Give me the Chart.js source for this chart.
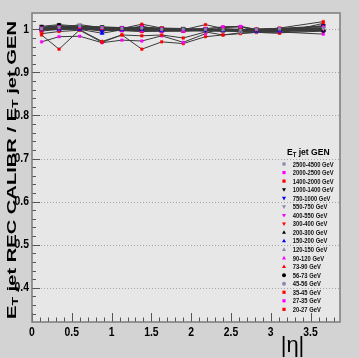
<!DOCTYPE html>
<html>
<head>
<meta charset="utf-8">
<script src="https://cdn.jsdelivr.net/npm/chart.js@4/dist/chart.umd.min.js"></script>
<style>
html,body{margin:0;padding:0;background:#d3d3d3;overflow:hidden;}
canvas{display:block;}
</style>
</head>
<body>
<canvas id="c" width="359" height="358" style="width:359px;height:358px"></canvas>
<script>
// ---- data ----
const eta = [0.12, 0.34, 0.60, 0.88, 1.13, 1.38, 1.63, 1.90, 2.18, 2.40, 2.62, 2.82, 3.11, 3.66];
const seriesLabels = ["2500-4500 GeV","2000-2500 GeV","1400-2000 GeV","1000-1400 GeV","750-1000 GeV","550-750 GeV","400-550 GeV","300-400 GeV","200-300 GeV","150-200 GeV","120-150 GeV","90-120 GeV","73-90 GeV","56-73 GeV","45-56 GeV","35-45 GeV","27-35 GeV","20-27 GeV"];
const pt2500_4500 = [1.002,1.005,1.008,1.004,1.002,1.003,1.000,1.001,1.000,0.999,0.998,1.000,1.001,1.003];
const pt2000_2500 = [1.003,1.006,1.006,1.004,1.004,1.005,1.001,0.998,1.001,1.006,1.007,1.000,1.002,1.006];
const pt1400_2000 = [1.000,1.004,1.004,1.002,1.002,1.012,1.003,0.999,1.011,1.002,1.000,0.999,1.003,1.018];
const pt1000_1400 = [1.007,1.011,1.007,1.006,1.004,1.005,1.003,1.002,1.001,1.000,0.999,1.000,1.002,1.008];
const pt750_1000  = [1.000,1.003,1.002,0.996,1.001,1.002,1.000,1.000,0.998,0.999,0.999,0.998,1.000,1.008];
const pt550_750   = [1.002,1.003,1.011,1.004,1.003,1.002,1.001,1.000,0.999,0.998,0.994,0.998,1.000,1.002];
const pt400_550   = [0.999,1.002,1.003,1.001,1.000,1.007,0.999,0.998,1.002,1.004,1.006,0.999,1.000,1.004];
const pt300_400   = [0.998,1.004,1.002,1.000,1.002,1.003,1.002,0.999,0.999,1.000,0.999,1.001,0.999,1.002];
const pt200_300   = [1.005,1.009,1.005,1.003,1.002,1.001,1.000,1.000,0.999,0.999,0.998,0.999,1.000,0.998];
const pt150_200   = [0.999,1.000,1.000,0.991,0.999,1.000,0.997,1.000,0.999,0.998,0.998,0.996,0.997,0.999];
const pt120_150   = [1.001,1.002,1.003,1.002,1.001,1.000,0.999,0.998,0.997,0.996,0.996,0.997,0.998,0.999];
const pt90_120    = [0.999,1.001,1.002,0.999,0.998,0.997,0.996,0.996,0.998,0.997,0.998,0.998,0.996,0.997];
const pt73_90     = [0.996,1.000,1.001,0.998,0.997,0.995,0.996,0.996,0.997,0.996,0.997,0.998,0.997,1.000];
const pt56_73     = [1.004,1.008,1.003,0.998,0.999,0.998,0.998,0.997,0.998,0.997,0.998,0.997,0.996,0.997];
const pt45_56     = [1.000,1.004,1.004,1.001,0.998,0.996,0.997,0.998,0.996,0.997,0.996,0.995,0.996,0.998];
const pt35_45     = [0.990,0.995,0.998,0.970,0.987,0.985,0.987,0.980,0.994,0.987,0.992,0.993,0.992,0.996];
const pt27_35     = [0.971,0.983,0.984,0.969,0.975,0.973,0.985,0.970,0.990,1.006,1.006,0.997,0.994,0.989];
const pt20_27     = [0.987,0.954,0.999,0.972,0.987,0.954,0.971,0.967,0.983,0.987,0.990,0.993,0.991,1.014];
const seriesValues = [pt2500_4500,pt2000_2500,pt1400_2000,pt1000_1400,pt750_1000,pt550_750,pt400_550,pt300_400,pt200_300,pt150_200,pt120_150,pt90_120,pt73_90,pt56_73,pt45_56,pt35_45,pt27_35,pt20_27];
const xTicks = [0, 0.5, 1, 1.5, 2, 2.5, 3, 3.5];
const yTicks = [0.4, 0.5, 0.6, 0.7, 0.8, 0.9, 1];

// ---- styles ----
const GREY = '#8a8ab0', MAG = '#ff00ff', RED = '#ff0000', BLK = '#000000', BLU = '#0000ff';
const seriesColors = [GREY,MAG,RED,BLK,BLU,GREY,MAG,RED,BLK,BLU,GREY,MAG,RED,BLK,GREY,RED,MAG,RED];
const seriesShapes = ['rect','rect','rect','tdown','tdown','tdown','tdown','tdown','triangle','triangle','triangle','triangle','triangle','circle','circle','rect','rect','rect'];
const TEXT_SQUEEZE = 0.83;

const datasets = seriesValues.map((vals, i) => {
  const shp = seriesShapes[i];
  return {
    label: seriesLabels[i],
    data: vals.map((v, k) => ({x: eta[k], y: v})),
    showLine: true,
    borderColor: '#3a3a3a',
    borderWidth: 1,
    pointStyle: shp === 'tdown' ? 'triangle' : shp,
    rotation: shp === 'tdown' ? 180 : 0,
    pointRadius: shp === 'circle' ? 2 : (shp === 'rect' ? 1.8 : 2.4),
    pointBackgroundColor: seriesColors[i],
    pointBorderColor: seriesColors[i],
    pointBorderWidth: 0.5,
    fill: false
  };
});

function drawMarker(ctx, shape, color, x, y, r) {
  ctx.fillStyle = color;
  ctx.beginPath();
  if (shape === 'circle') ctx.arc(x, y, r, 0, Math.PI * 2);
  else if (shape === 'rect') ctx.rect(x - r * 0.8, y - r * 0.8, r * 1.6, r * 1.6);
  else {
    const d = shape === 'tdown' ? -1 : 1;
    ctx.moveTo(x, y - d * r * 1.1);
    ctx.lineTo(x - r, y + d * r * 0.7);
    ctx.lineTo(x + r, y + d * r * 0.7);
    ctx.closePath();
  }
  ctx.fill();
}

// text with subscripts, stretched along its direction (factor sx or to target length)
function richText(ctx, parts, size, family, weight, target, factor) {
  const sub = size * 0.7;
  let w = 0;
  parts.forEach(p => {
    ctx.font = weight + ' ' + (p.sub ? sub : size) + 'px ' + family;
    p.w = ctx.measureText(p.t).width;
    w += p.w;
  });
  const sx = target ? target / w : (factor || 1);
  return {w, sx, draw(x0, y0) {
    ctx.save();
    ctx.translate(x0, y0);
    ctx.scale(sx, 1);
    let x = 0;
    parts.forEach(p => {
      ctx.font = weight + ' ' + (p.sub ? sub : size) + 'px ' + family;
      ctx.fillText(p.t, x, p.sub ? size * 0.22 : 0);
      x += p.w;
    });
    ctx.restore();
  }};
}

const FAM = "'Liberation Sans', Arial, sans-serif";
let savedFill = null;

const decor = {
  id: 'decor',
  beforeDraw(chart) {
    const {ctx, chartArea: a, width, height} = chart;
    const ys = chart.scales.y;
    ctx.save();
    ctx.fillStyle = '#d3d3d3';
    ctx.fillRect(0, 0, width, height);
    ctx.fillStyle = '#e7e7e7';
    ctx.fillRect(a.left, a.top, a.right - a.left, a.bottom - a.top);
    ctx.strokeStyle = '#a6a6a6';
    ctx.lineWidth = 1;
    ctx.setLineDash([1, 2]);
    yTicks.forEach(v => {
      const py = Math.round(ys.getPixelForValue(v)) + 0.5;
      ctx.beginPath(); ctx.moveTo(a.left, py); ctx.lineTo(a.right, py); ctx.stroke();
    });
    ctx.restore();
    // narrow the axis tick labels (drawn by the scales right after this hook)
    savedFill = ctx.fillText;
    ctx.fillText = function (t, x, y, mw) {
      this.save(); this.translate(x, y); this.scale(TEXT_SQUEEZE, 1);
      savedFill.call(this, t, 0, 0, mw);
      this.restore();
    };
  },
  beforeDatasetsDraw(chart) {
    if (savedFill) { chart.ctx.fillText = savedFill; savedFill = null; }
  },
  afterDatasetsDraw(chart) {
    const {ctx, chartArea: a} = chart;
    const xs = chart.scales.x, ys = chart.scales.y;
    ctx.save();
    // tick marks inside the frame
    ctx.strokeStyle = '#555';
    ctx.lineWidth = 1;
    for (let k = Math.ceil(ys.min / 0.02); k * 0.02 <= ys.max + 1e-9; k++) {
      const v = k * 0.02;
      const major = Math.abs(v * 10 - Math.round(v * 10)) < 1e-6;
      const py = Math.round(ys.getPixelForValue(v)) + 0.5;
      ctx.beginPath(); ctx.moveTo(a.left, py); ctx.lineTo(a.left + (major ? 8 : 4), py); ctx.stroke();
    }
    for (let k = 0; k * 0.1 <= xs.max + 1e-9; k++) {
      const v = k * 0.1;
      const major = k % 5 === 0;
      const px = Math.round(xs.getPixelForValue(v)) + 0.5;
      ctx.beginPath(); ctx.moveTo(px, a.bottom); ctx.lineTo(px, a.bottom - (major ? 9 : 4.5)); ctx.stroke();
    }
    // frame
    ctx.strokeStyle = '#7c7c7c';
    ctx.lineWidth = 1.5;
    ctx.strokeRect(a.left, a.top, a.right - a.left, a.bottom - a.top);

    ctx.fillStyle = '#000';
    ctx.textBaseline = 'alphabetic';
    // y title
    const yt = richText(ctx, [{t:'E'},{t:'T',sub:true},{t:' jet REC CALIBR / E'},{t:'T',sub:true},{t:' jet GEN'}], 13.5, FAM, 'bold', 298);
    ctx.save();
    ctx.translate(15.5, 170);
    ctx.rotate(-Math.PI / 2);
    yt.draw(-149, 0);
    ctx.restore();
    // x title
    ctx.font = '22px ' + FAM;
    ctx.textAlign = 'center';
    ctx.fillText('|\u03b7|', 292.5, 352);
    ctx.textAlign = 'left';
    // legend
    const lh = richText(ctx, [{t:'E'},{t:'T',sub:true},{t:' jet GEN'}], 9, FAM, 'bold', 0, 0.95);
    lh.draw(287, 155);
    seriesLabels.forEach((lab, i) => {
      const cy = 164 + i * 8.55;
      drawMarker(ctx, seriesShapes[i], seriesColors[i], 284, cy, 2);
      ctx.fillStyle = '#111';
      ctx.save();
      ctx.translate(292.7, cy + 2.5);
      ctx.scale(TEXT_SQUEEZE, 1);
      ctx.font = 'bold 7px ' + FAM;
      ctx.fillText(lab, 0, 0);
      ctx.restore();
    });
    ctx.restore();
  }
};

new Chart(document.getElementById('c'), {
  type: 'scatter',
  data: {datasets},
  options: {
    responsive: false,
    devicePixelRatio: 1,
    animation: false,
    layout: {padding: {left: 0, top: 13, right: 19, bottom: 0}},
    plugins: {legend: {display: false}, tooltip: {enabled: false}},
    scales: {
      x: {
        type: 'linear', min: 0, max: 3.87,
        afterBuildTicks: s => { s.ticks = xTicks.map(v => ({value: v})); },
        afterFit: s => { s.height = 36; },
        grid: {display: false, drawTicks: false},
        border: {display: false},
        ticks: {color: '#000', padding: 3, font: {family: FAM, size: 12.5, weight: 'bold'}, maxRotation: 0, autoSkip: false, callback: v => String(v)}
      },
      y: {
        type: 'linear', min: 0.3205, max: 1.038,
        afterBuildTicks: s => { s.ticks = yTicks.map(v => ({value: v})); },
        afterFit: s => { s.width = 32; },
        grid: {display: false, drawTicks: false},
        border: {display: false},
        ticks: {color: '#000', padding: 3, font: {family: FAM, size: 12.5, weight: 'bold'}, autoSkip: false, callback: v => String(v)}
      }
    }
  },
  plugins: [decor]
});
</script>
</body>
</html>
